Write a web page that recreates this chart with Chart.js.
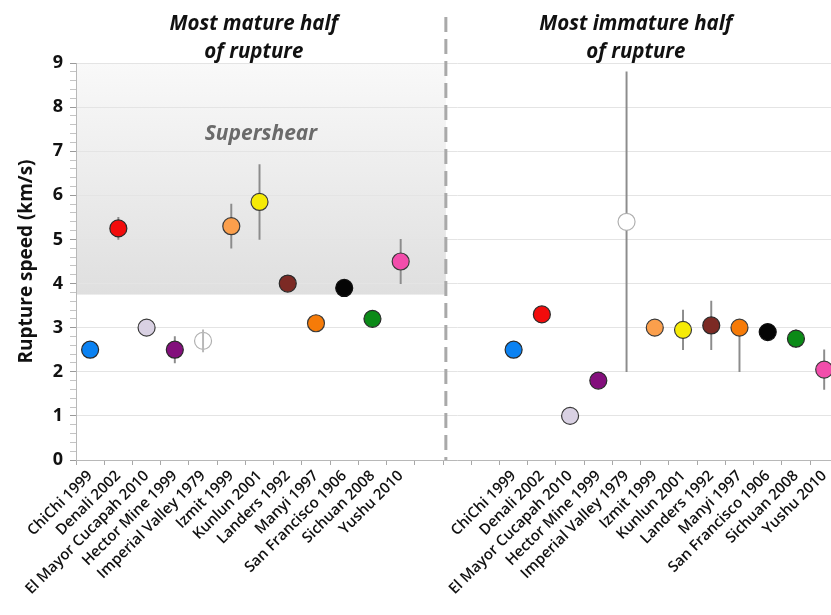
<!DOCTYPE html>
<html>
<head>
<meta charset="utf-8">
<script src="https://cdn.jsdelivr.net/npm/chart.js@4/dist/chart.umd.min.js"></script>
<style>
  html, body { margin: 0; padding: 0; background: #fff; overflow: hidden; }
  #wrap { width: 848px; height: 615px; }
</style>
</head>
<body>
<div id="wrap"><canvas id="c" width="848" height="615"></canvas></div>
<script>
// Earthquakes, in the order they appear in each half of the chart
const events = ['ChiChi 1999', 'Denali 2002', 'El Mayor Cucapah 2010', 'Hector Mine 1999',
  'Imperial Valley 1979', 'Izmit 1999', 'Kunlun 2001', 'Landers 1992', 'Manyi 1997',
  'San Francisco 1906', 'Sichuan 2008', 'Yushu 2010'];

// Rupture speed (km/s) over the most mature half of each rupture, with error range
const matureSpeed = [2.5, 5.25, 3.0, 2.5, 2.7, 5.3, 5.85, 4.0, 3.1, 3.9, 3.2, 4.5];
const matureLow   = [null, 5.0, null, 2.2, 2.45, 4.8, 5.0, null, null, null, null, 4.0];
const matureHigh  = [null, 5.5, null, 2.8, 2.95, 5.8, 6.7, null, null, null, null, 5.0];

// Rupture speed (km/s) over the most immature half of each rupture, with error range
const immatureSpeed = [2.5, 3.3, 1.0, 1.8, 5.4, 3.0, 2.95, 3.05, 3.0, 2.9, 2.75, 2.05];
const immatureLow   = [null, null, null, null, 2.0, null, 2.5, 2.5, 2.0, null, 2.55, 1.6];
const immatureHigh  = [null, null, null, null, 8.8, null, 3.4, 3.6, 3.0, null, 2.95, 2.5];

// Speeds above the shear-wave speed
const supershearFrom = 3.75;
const supershearTo = 9;

const yMin = 0, yMax = 9;

// Marker fill and outline per event
const eventFill = ['#0b82f2', '#f20c0c', '#d9d1e3', '#830f7c', '#ffffff', '#fb9f4c',
  '#f6eb06', '#7c2a24', '#f67b08', '#050505', '#0b8a17', '#f24dab'];
const eventBorder = ['#2a2a2a', '#2a2a2a', '#3a3a3a', '#2a2a2a', '#b0b0b0', '#3a3a3a',
  '#3a3a3a', '#2a2a2a', '#3a3a3a', '#111111', '#2a2a2a', '#3a3a3a'];
const OPEN_EVENT = 4; // Imperial Valley 1979 is drawn as an open marker

// Category layout: mature half, three spacer slots, immature half
const gapSlots = 3;
const rightStart = events.length + gapSlots;
const labels = [...events, ...Array(gapSlots).fill(''), ...events];
const slots = labels.length;

// Spread a per-event list over the category slots of both halves
function spread(left, right, empty = null) {
  const out = Array(slots).fill(empty);
  left.forEach((v, i) => { out[i] = v; });
  right.forEach((v, i) => { out[i + rightStart] = v; });
  return out;
}
function range(lows, highs, keep) {
  return lows.map((lo, i) => (lo === null || !keep(i)) ? null : [lo, highs[i]]);
}

const FONT = '"Open Sans", "DejaVu Sans", sans-serif';

const sectionPlugin = {
  id: 'sections',
  beforeDraw(chart) {
    const { ctx, chartArea, scales } = chart;
    const x = scales.x, y = scales.y;
    const step = x.getPixelForValue(1) - x.getPixelForValue(0);
    const divider = x.getPixelForValue(events.length) + 0.6 * step;
    ctx.save();
    ctx.fillStyle = '#ffffff';
    ctx.fillRect(0, 0, chart.width, chart.height);
    const top = y.getPixelForValue(supershearTo);
    const bottom = y.getPixelForValue(supershearFrom);
    const g = ctx.createLinearGradient(0, top, 0, bottom);
    g.addColorStop(0, '#f9f9f9');
    g.addColorStop(1, '#dfdfdf');
    ctx.fillStyle = g;
    ctx.fillRect(chartArea.left, top, divider - chartArea.left, bottom - top);
    ctx.restore();
  },
  beforeDatasetsDraw(chart) {
    const { ctx, chartArea, scales } = chart;
    const x = scales.x, y = scales.y;
    const step = x.getPixelForValue(1) - x.getPixelForValue(0);
    const divider = x.getPixelForValue(events.length) + 0.6 * step;
    ctx.save();
    // dashed divider between the two halves
    ctx.strokeStyle = '#a9a9a9';
    ctx.lineWidth = 3;
    ctx.setLineDash([15, 7]);
    ctx.beginPath();
    ctx.moveTo(divider, chartArea.top - 46);
    ctx.lineTo(divider, chartArea.bottom);
    ctx.stroke();
    ctx.setLineDash([]);

    // section headings
    ctx.fillStyle = '#111';
    ctx.textAlign = 'center';
    ctx.textBaseline = 'alphabetic';
    ctx.font = 'italic 700 20.5px ' + FONT;
    const leftC = x.getPixelForValue(5.8);
    const rightC = x.getPixelForValue(19.33);
    ctx.fillText('Most mature half', leftC, chartArea.top - 33);
    ctx.fillText('of rupture', leftC, chartArea.top - 5);
    ctx.fillText('Most immature half', rightC, chartArea.top - 33);
    ctx.fillText('of rupture', rightC, chartArea.top - 5);

    // supershear label
    ctx.fillStyle = '#6a6a6a';
    ctx.font = 'italic 700 21px ' + FONT;
    ctx.fillText('Supershear', (chartArea.left + divider) / 2, y.getPixelForValue(7.25));
    ctx.restore();
  }
};

const isWhole = v => Math.abs(v - Math.round(v)) < 1e-6;

const barStyle = {
  type: 'bar',
  grouped: false,
  barThickness: 1.3,
  borderWidth: 0
};

new Chart(document.getElementById('c'), {
  type: 'line',
  data: {
    labels: labels,
    datasets: [
      // error ranges behind the markers
      Object.assign({}, barStyle, {
        data: spread(range(matureLow, matureHigh, i => i !== OPEN_EVENT),
                     range(immatureLow, immatureHigh, () => true)),
        backgroundColor: '#8c8c8c',
        order: 3
      }),
      // error range seen through the open marker
      Object.assign({}, barStyle, {
        data: spread(range(matureLow, matureHigh, i => i === OPEN_EVENT), []),
        backgroundColor: '#b8b8b8',
        order: 0
      }),
      {
        type: 'line',
        data: spread(matureSpeed, immatureSpeed),
        showLine: false,
        pointRadius: 8.5,
        pointHoverRadius: 8.5,
        pointBorderWidth: 1.2,
        pointBackgroundColor: spread(
          eventFill.map((c, i) => i === OPEN_EVENT ? 'rgba(255,255,255,0)' : c), eventFill, '#fff'),
        pointBorderColor: spread(eventBorder, eventBorder, '#000'),
        order: 1
      }
    ]
  },
  options: {
    responsive: false,
    animation: false,
    layout: { padding: { top: 63, right: 0, left: 0, bottom: 0 } },
    plugins: { legend: { display: false }, tooltip: { enabled: false } },
    scales: {
      x: {
        type: 'category',
        offset: true,
        afterFit(scale) { scale.height = 155; },
        grid: { offset: true, drawOnChartArea: false, tickLength: 5, color: '#a8a8a8', tickColor: '#a8a8a8' },
        border: { color: '#b8b8b8', width: 1 },
        ticks: {
          autoSkip: false, minRotation: 45, maxRotation: 45, padding: 2,
          color: '#111', font: { family: FONT, size: 15, weight: '600' }
        }
      },
      y: {
        min: yMin, max: yMax,
        afterFit(scale) { scale.width = 76; },
        grid: {
          color: ctx => isWhole(ctx.tick.value) ? '#e4e4e4' : 'rgba(0,0,0,0)',
          tickColor: ctx => isWhole(ctx.tick.value) ? '#9a9a9a' : '#c4c4c4',
          tickLength: 6, lineWidth: 1
        },
        border: { color: '#b8b8b8', width: 1 },
        ticks: {
          stepSize: 0.2, autoSkip: false, padding: 7,
          color: '#111', font: { family: FONT, size: 18, weight: '700' },
          callback: v => isWhole(v) ? String(Math.round(v)) : ''
        },
        title: {
          display: true, text: 'Rupture speed (km/s)', color: '#111',
          font: { family: FONT, size: 19, weight: '700' },
          padding: { top: 15, bottom: 0 }
        }
      }
    }
  },
  plugins: [sectionPlugin]
});
</script>
</body>
</html>
